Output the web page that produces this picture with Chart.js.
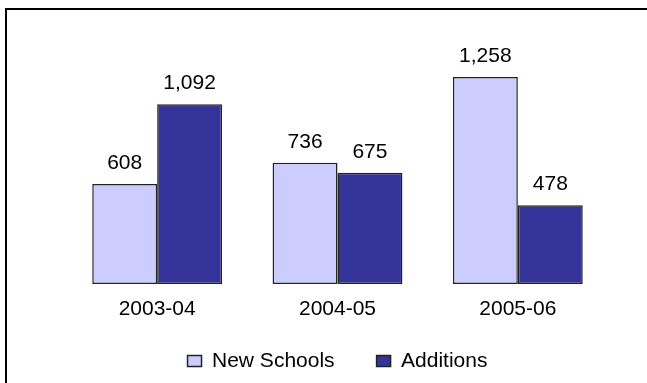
<!DOCTYPE html>
<html>
<head>
<meta charset="utf-8">
<script src="https://cdn.jsdelivr.net/npm/chart.js@4/dist/chart.umd.min.js"></script>
<style>
html,body{margin:0;padding:0;background:#fff;}
#wrap{width:647px;height:383px;position:relative;}
</style>
</head>
<body>
<div id="wrap"><canvas id="c" width="647" height="383"></canvas></div>
<script>
const categories = ["2003-04", "2004-05", "2005-06"];
const newSchools = [608, 736, 1258];
const additions = [1092, 675, 478];
const seriesNames = ["New Schools", "Additions"];

const FONT = "'Liberation Sans', Arial, sans-serif";
const FSIZE = 21;

const framePlugin = {
  id: 'frame',
  beforeDraw(chart) {
    const ctx = chart.ctx;
    ctx.save();
    ctx.fillStyle = '#fff';
    ctx.fillRect(0, 0, chart.width, chart.height);
    ctx.fillStyle = '#000';
    ctx.fillRect(5, 8, chart.width - 5, 2);
    ctx.fillRect(5, 8, 2, chart.height - 8);
    ctx.restore();
  }
};

// move legend row up so it sits closer to the category labels
const legendShift = {
  id: 'legendShift',
  afterLayout(chart) {
    const lg = chart.legend;
    if (lg) { lg.top -= 14; lg.bottom -= 14; }
  }
};

const valueLabels = {
  id: 'valueLabels',
  afterDatasetsDraw(chart) {
    const ctx = chart.ctx;
    ctx.save();
    ctx.font = FSIZE + "px " + FONT;
    ctx.fillStyle = '#000';
    ctx.textAlign = 'center';
    ctx.textBaseline = 'alphabetic';
    chart.data.datasets.forEach((ds, i) => {
      const meta = chart.getDatasetMeta(i);
      meta.data.forEach((bar, j) => {
        ctx.fillText(ds.data[j].toLocaleString('en-US'), bar.x, bar.y - 15);
      });
    });
    ctx.restore();
  }
};

new Chart(document.getElementById('c'), {
  type: 'bar',
  data: {
    labels: categories,
    datasets: [
      { label: seriesNames[0], data: newSchools, backgroundColor: '#CCCCFF', borderColor: '#222', borderWidth: 1.5, borderSkipped: false },
      { label: seriesNames[1], data: additions, backgroundColor: '#333399', borderColor: '#222', borderWidth: 1.5, borderSkipped: false }
    ]
  },
  options: {
    responsive: false,
    animation: false,
    layout: { padding: { left: 67, right: 39, top: 53.5, bottom: -12.5 } },
    categoryPercentage: 0.72,
    barPercentage: 1.0,
    scales: {
      x: {
        grid: { display: false, drawTicks: false },
        border: { display: false },
        ticks: { color: '#000', font: { family: FONT, size: FSIZE }, padding: 13 },
        afterFit(scale) { scale.height = 38.5; }
      },
      y: { display: false, min: 0, max: 1400 }
    },
    plugins: {
      legend: {
        position: 'bottom',
        labels: {
          color: '#000',
          font: { family: FONT, size: FSIZE },
          boxWidth: 14,
          boxHeight: 11,
          padding: 42,
          useBorderRadius: false
        }
      },
      title: { display: false },
      tooltip: { enabled: false }
    }
  },
  plugins: [framePlugin, legendShift, valueLabels]
});
</script>
</body>
</html>
